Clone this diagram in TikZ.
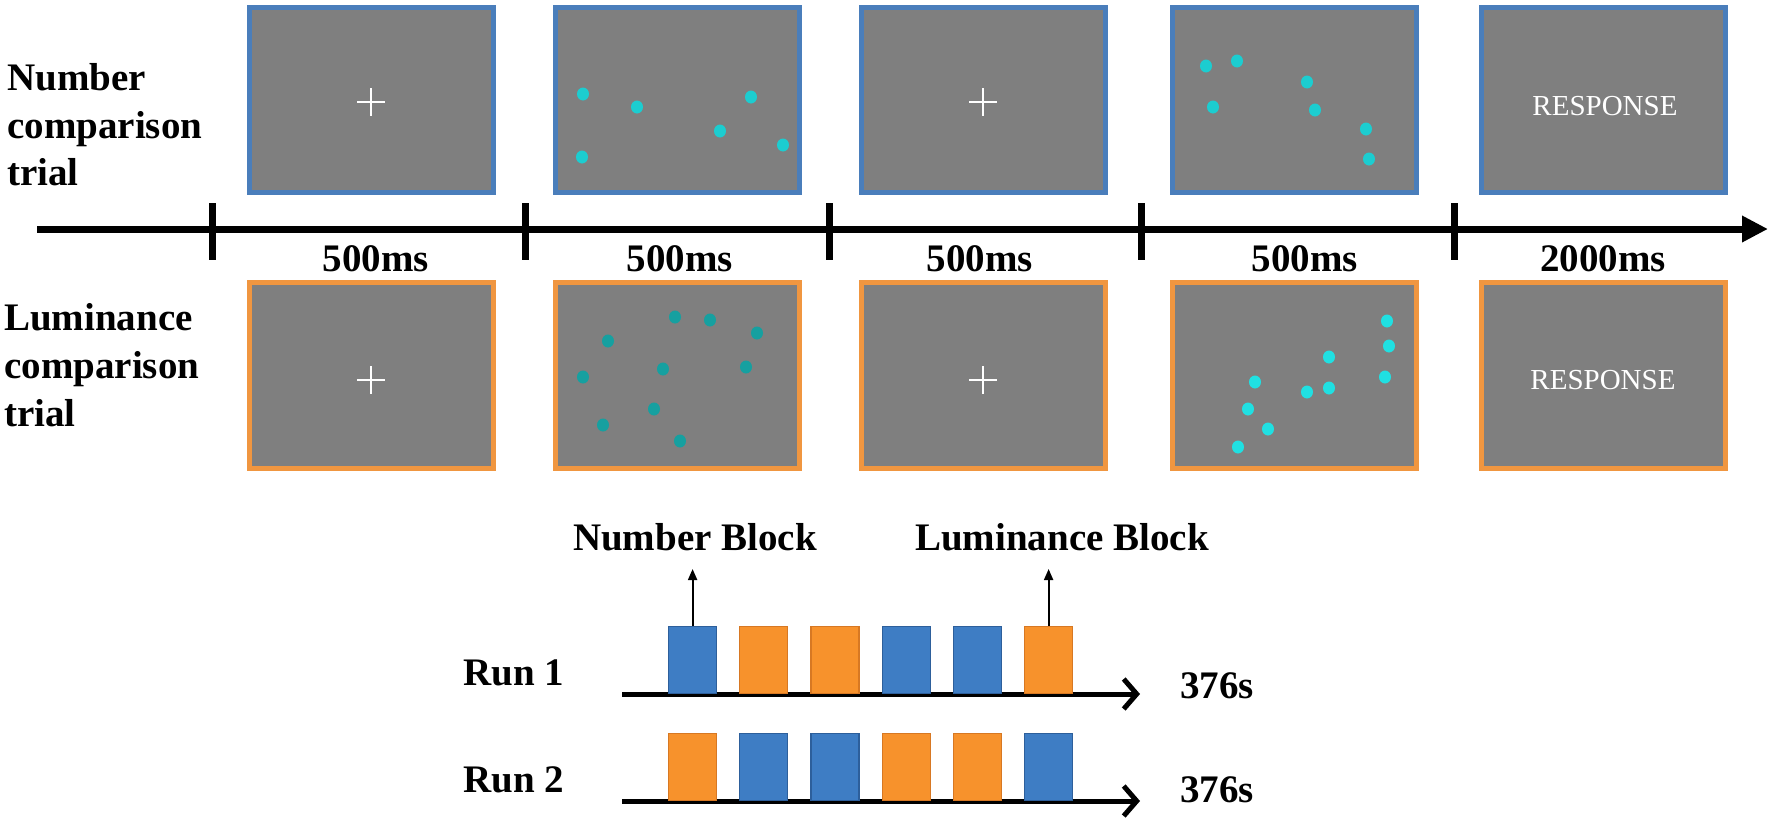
\documentclass[tikz,border=0pt]{standalone}
\usepackage{fontspec}
\setmainfont{Liberation Serif}
\usetikzlibrary{arrows.meta}
\definecolor{scrgray}{RGB}{127,127,127}
\definecolor{nblue}{RGB}{74,126,187}
\definecolor{lorange}{RGB}{240,150,64}
\definecolor{dotcyan}{RGB}{28,205,208}
\definecolor{dotteal}{RGB}{22,160,160}
\definecolor{dotbright}{RGB}{32,224,226}
\definecolor{blkblue}{RGB}{62,125,196}
\definecolor{blkblueedge}{RGB}{45,95,155}
\definecolor{blkorange}{RGB}{247,146,44}
\definecolor{blkorangeedge}{RGB}{215,120,35}
\newcommand\lblfont{\fontsize{39}{47}\selectfont\bfseries}
\newcommand\respfont{\fontsize{29}{35}\selectfont}
\begin{document}
\begin{tikzpicture}[x=1pt,y=-1pt,
  scr/.style={rectangle, fill=scrgray, line width=5pt, minimum width=244pt, minimum height=185pt, inner sep=0pt},
  nscr/.style={scr, draw=nblue},
  lscr/.style={scr, draw=lorange, minimum height=186pt},
  lbl/.style={inner sep=0pt, anchor=base west, font=\lblfont},
  dur/.style={inner sep=0pt, anchor=base, font=\lblfont},
  blk/.style={rectangle, minimum width=48pt, minimum height=67pt, inner sep=0pt, line width=1.2pt, anchor=south west},
  nblk/.style={blk, fill=blkblue, draw=blkblueedge},
  lblk/.style={blk, fill=blkorange, draw=blkorangeedge},
  resp/.style={text=white, font=\respfont, inner sep=0pt},
  runaxis/.style={line width=5pt, -{Straight Barb[length=13pt,width=30pt,line width=5pt]}},
  upmark/.style={line width=2pt, -{Triangle[length=11pt,width=9pt]}},
  fixcross/.pic={\draw[white, line width=2.5pt] (-14,0) -- (14,0) (0,-14) -- (0,14);}
]
\useasboundingbox (0,0) rectangle (1770,817);

% ---------- row labels ----------
\node[lbl] (nt1) at (7,90) {Number};
\node[lbl] (nt2) at (7,138) {comparison};
\node[lbl] (nt3) at (7,185) {trial};
\node[lbl] (lt1) at (4,330) {Luminance};
\node[lbl] (lt2) at (4,378) {comparison};
\node[lbl] (lt3) at (4,426) {trial};

% ---------- top row screens ----------
\node[nscr] (t1) at (371.5,100) {};
\node[nscr] (t2) at (677,100) {};
\node[nscr] (t3) at (983,100) {};
\node[nscr] (t4) at (1294,100) {};
\node[nscr] (t5) at (1603.5,100) {};
\pic at (371,102) {fixcross};
\pic at (983,102) {fixcross};
\foreach \p in {(583,94),(637,107),(751,97),(720,131),(783,145),(582,157)}
  \fill[dotcyan] \p ellipse [x radius=6pt, y radius=6.5pt];
\foreach \p in {(1206,66),(1237,61),(1307,82),(1213,107),(1315,110),(1366,129),(1369,159)}
  \fill[dotcyan] \p ellipse [x radius=6pt, y radius=6.5pt];
\node[resp] (r1) at (1605,106) {RESPONSE};

% ---------- bottom row screens ----------
\node[lscr] (b1) at (371.5,375.5) {};
\node[lscr] (b2) at (677,375.5) {};
\node[lscr] (b3) at (983,375.5) {};
\node[lscr] (b4) at (1294,375.5) {};
\node[lscr] (b5) at (1603.5,375.5) {};
\pic at (371,380) {fixcross};
\pic at (983,380) {fixcross};
\foreach \p in {(675,317),(710,320),(757,333),(608,341),(663,369),(746,367),(583,377),(654,409),(603,425),(680,441)}
  \fill[dotteal] \p ellipse [x radius=6pt, y radius=6.5pt];
\foreach \p in {(1387,321),(1389,346),(1329,357),(1385,377),(1255,382),(1329,388),(1307,392),(1248,409),(1268,429),(1238,447)}
  \fill[dotbright] \p ellipse [x radius=6pt, y radius=6.5pt];
\node[resp] (r2) at (1603,380) {RESPONSE};

% ---------- timeline ----------
\coordinate (tl0) at (37,229);
\coordinate (tl1) at (1768,229);
\draw[line width=7pt, -{Triangle[length=26pt,width=25pt]}] (tl0) -- (tl1);
\foreach \x in {212,525,829,1141,1454}
  \draw[line width=7pt] (\x,203) -- (\x,260);
\node[dur] (d1) at (376,271) {500ms};
\node[dur] (d2) at (680,271) {500ms};
\node[dur] (d3) at (980,271) {500ms};
\node[dur] (d4) at (1305,271) {500ms};
\node[dur] (d5) at (1603,271) {2000ms};

% ---------- block design ----------
\node[dur] (nblab) at (695,550) {Number Block};
\node[dur] (lblab) at (1062,550) {Luminance Block};
\node[lbl] (run1) at (463,685) {Run 1};
\node[lbl] (run2) at (463,792) {Run 2};
\node[lbl] (s1) at (1180,698) {376s};
\node[lbl] (s2) at (1180,802) {376s};

\coordinate (a1s) at (622,694);
\coordinate (a1e) at (1140,694);
\coordinate (a2s) at (622,801);
\coordinate (a2e) at (1140,801);
\draw[runaxis] (a1s) -- (a1e);
\draw[runaxis] (a2s) -- (a2e);

\node[nblk] (k11) at (668,694) {};
\node[lblk] (k12) at (739.2,694) {};
\node[lblk] (k13) at (810.4,694) {};
\node[nblk] (k14) at (881.6,694) {};
\node[nblk] (k15) at (952.8,694) {};
\node[lblk] (k16) at (1024,694) {};

\node[lblk] (k21) at (668,801) {};
\node[nblk] (k22) at (739.2,801) {};
\node[nblk] (k23) at (810.4,801) {};
\node[lblk] (k24) at (881.6,801) {};
\node[lblk] (k25) at (952.8,801) {};
\node[nblk] (k26) at (1024,801) {};

\coordinate (nbtip) at (0,569);
\draw[upmark] (k11.north) -- (k11.north |- nbtip);
\draw[upmark] (k16.north) -- (k16.north |- nbtip);
\end{tikzpicture}
\end{document}
